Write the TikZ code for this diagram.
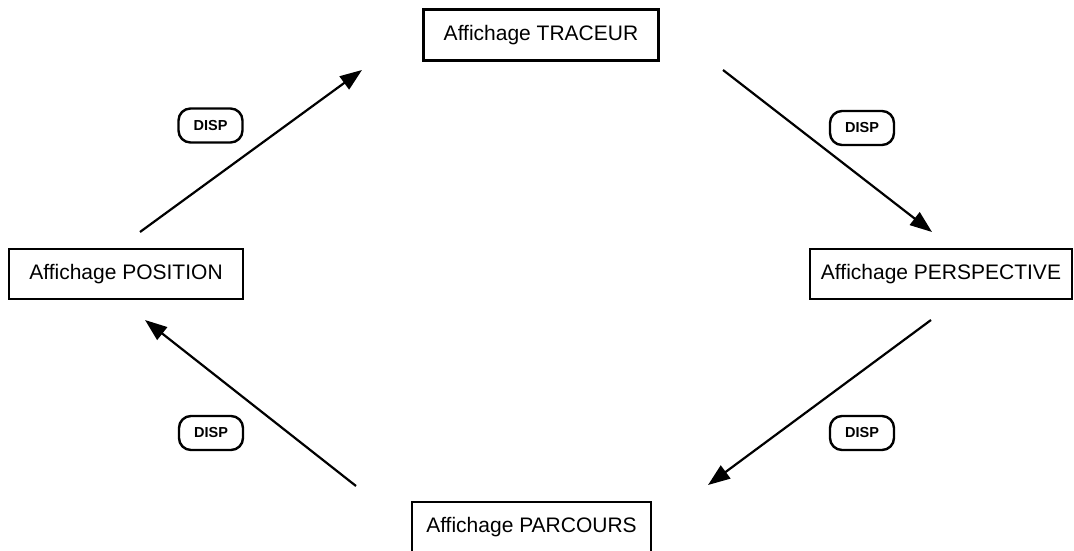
\documentclass[tikz,border=0pt]{standalone}
\usepackage{fontspec}
\setmainfont{Liberation Sans}
\usetikzlibrary{arrows.meta}
\tikzset{
  box/.style={draw, line width=2.4pt, inner sep=0pt, font=\fontsize{21}{24}\selectfont},
  disp/.style={draw, line width=2.4pt, rounded corners=12pt, minimum width=64pt, minimum height=34pt, inner sep=0pt, font=\fontsize{14.5}{16}\selectfont\bfseries},
  arr/.style={line width=2.2pt, -{Triangle[length=22pt,width=16pt]}}
}
\begin{document}
\begin{tikzpicture}[x=1pt,y=-1pt]
\useasboundingbox (0,0) rectangle (1074,551);
\node[box, minimum width=235pt, minimum height=51pt] (trac) at (541,35) {Affichage TRACEUR};
\node[box, minimum width=234pt, minimum height=50pt] (posi) at (126,274) {Affichage POSITION};
\node[box, minimum width=262pt, minimum height=50pt] (pers) at (941,274) {Affichage PERSPECTIVE};
\node[box, minimum width=239pt, minimum height=51pt] (parc) at (531.5,527.5) {\raisebox{4pt}{Affichage PARCOURS}};
\node[disp] (d1) at (210.5,125.5) {DISP};
\node[disp] (d2) at (862,128) {DISP};
\node[disp] (d3) at (862,433) {DISP};
\node[disp] (d4) at (211,433) {DISP};
\coordinate (a1s) at (140,232); \coordinate (a1e) at (362,70);
\coordinate (a2s) at (723,70);  \coordinate (a2e) at (932,232);
\coordinate (a3s) at (931,320); \coordinate (a3e) at (708,485);
\coordinate (a4s) at (356,486); \coordinate (a4e) at (145,320);
\draw[arr] (a1s) -- (a1e);
\draw[arr] (a2s) -- (a2e);
\draw[arr] (a3s) -- (a3e);
\draw[arr] (a4s) -- (a4e);
\end{tikzpicture}
\end{document}
